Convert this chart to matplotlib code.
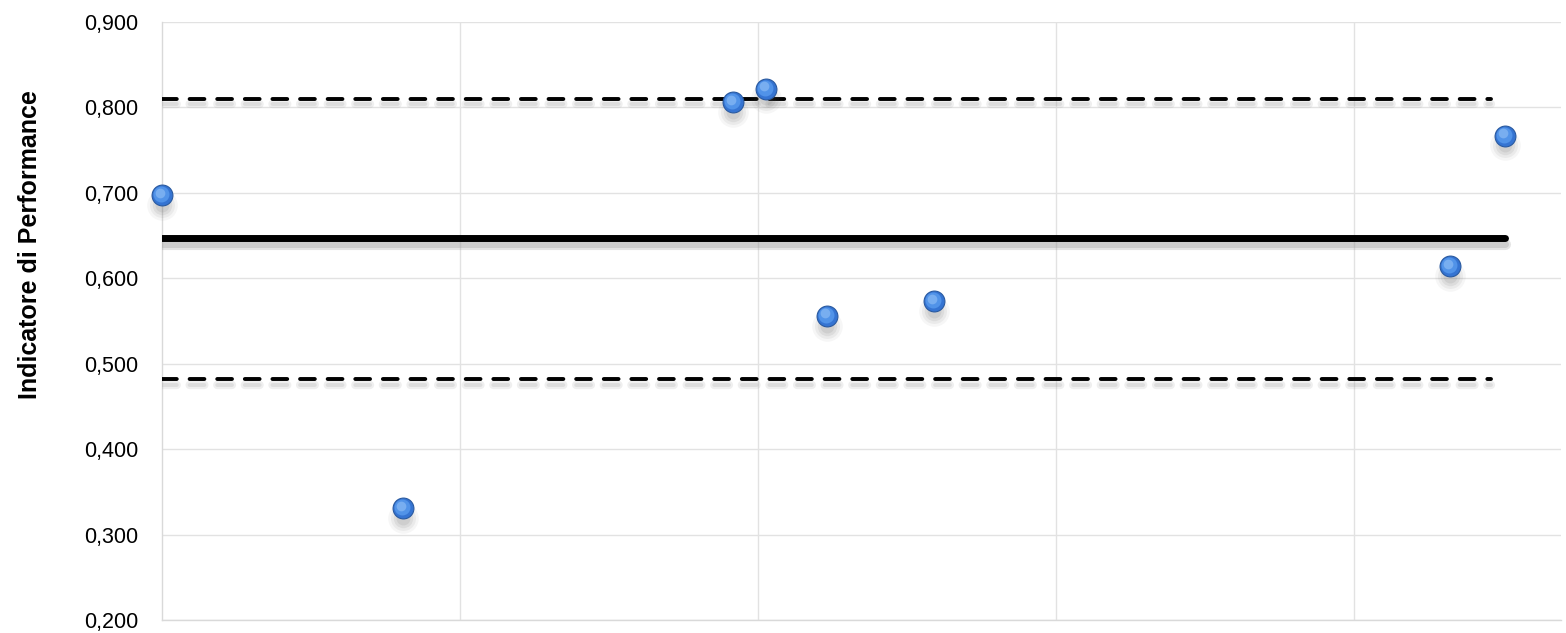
import matplotlib
matplotlib.use("Agg")
import matplotlib.pyplot as plt
import matplotlib.patheffects as pe
from matplotlib.ticker import FixedLocator, FuncFormatter
from matplotlib.transforms import offset_copy

# Data
x_pos = [0.0, 0.809, 1.916, 2.027, 2.232, 2.591, 4.322, 4.507]
perf = [0.697, 0.331, 0.806, 0.822, 0.556, 0.573, 0.614, 0.767]
mean_val = 0.647
upper_lim = 0.810
lower_lim = 0.482
line_end = 4.507
dash_end = 4.46
y_ticks = [0.2, 0.3, 0.4, 0.5, 0.6, 0.7, 0.8, 0.9]
x_grid = [1, 2, 3, 4]
y_label = "Indicatore di Performance"

plt.rcParams['font.family'] = ['Liberation Sans', 'DejaVu Sans']

fig = plt.figure(figsize=(15.66, 6.33), dpi=100)
ax = fig.add_axes([162/1566, 1-620/633, (1561-162)/1566, (620-22)/633])

ax.set_xlim(0, 4.695)
ax.set_ylim(0.2, 0.9)
ax.yaxis.set_major_locator(FixedLocator(y_ticks))
ax.yaxis.set_major_formatter(FuncFormatter(lambda v, p: f"{v:.3f}".replace('.', ',')))
ax.xaxis.set_major_locator(FixedLocator(x_grid))
ax.set_xticklabels([])
ax.tick_params(axis='both', length=0, labelsize=15.5, pad=17)
ax.grid(True, color='#e2e2e2', linewidth=1)
ax.set_axisbelow(True)
for s in ['top', 'right']:
    ax.spines[s].set_visible(False)
for s in ['left', 'bottom']:
    ax.spines[s].set_color('#d9d9d9')
    ax.spines[s].set_linewidth(1)

# soft line shadows
line_shadow = [pe.SimpleLineShadow(offset=(0, -4), shadow_color='#999999', alpha=0.25, linewidth=8),
               pe.SimpleLineShadow(offset=(0, -4), shadow_color='#999999', alpha=0.3),
               pe.Normal()]
dash_shadow = [pe.SimpleLineShadow(offset=(0, -4), shadow_color='#999999', alpha=0.15, linewidth=6),
               pe.SimpleLineShadow(offset=(0, -4), shadow_color='#999999', alpha=0.2),
               pe.Normal()]

ax.plot([0, line_end], [mean_val, mean_val], color='black', lw=5, solid_capstyle='round',
        path_effects=line_shadow, zorder=3)
for v in (upper_lim, lower_lim):
    ax.plot([0, dash_end], [v, v], color='black', lw=2.8, dashes=(3.8, 3.3),
            dash_capstyle='round', path_effects=dash_shadow, zorder=3)

# marker shadows (blurred, below)
sh_tr = offset_copy(ax.transData, fig=fig, x=0, y=-7, units='points')
for ms, a in [(22, 0.05), (18, 0.07), (14, 0.09), (10, 0.1)]:
    ax.plot(x_pos, perf, linestyle='none', marker='o', markersize=ms,
            markerfacecolor='#555555', markeredgecolor='none', alpha=a,
            transform=sh_tr, zorder=3.5, clip_on=False)

# spheres
ax.plot(x_pos, perf, linestyle='none', marker='o', markersize=15,
        markerfacecolor='#3574d2', markeredgecolor='#2a5aa0', markeredgewidth=0.8,
        zorder=4, clip_on=False)
hl1 = offset_copy(ax.transData, fig=fig, x=-0.6, y=0.8, units='points')
ax.plot(x_pos, perf, linestyle='none', marker='o', markersize=11.5,
        markerfacecolor='#5193e8', markeredgecolor='none', transform=hl1, zorder=5, clip_on=False)
hl2 = offset_copy(ax.transData, fig=fig, x=-1.2, y=1.8, units='points')
ax.plot(x_pos, perf, linestyle='none', marker='o', markersize=7,
        markerfacecolor='#82b5f3', markeredgecolor='none', alpha=0.8, transform=hl2,
        zorder=6, clip_on=False)

fig.text(30/1566, 1-245/633, y_label, rotation=90, ha='center', va='center',
         fontsize=18, fontweight='bold')

fig.savefig("out.png", dpi=100)
